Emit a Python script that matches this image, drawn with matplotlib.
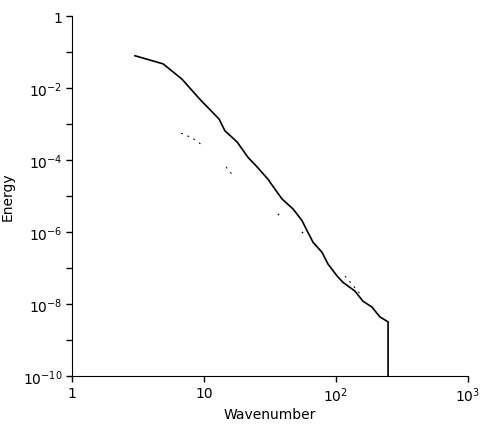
# Energy spectrum vs wavenumber

import numpy as np
import matplotlib.pyplot as plt
from matplotlib.ticker import FixedLocator, NullLocator

# Data
k_main = [3.0, 4.9, 6.8, 9.3, 13.0, 14.4, 17.8, 21.5, 25.2, 30.5, 34.5, 39.0,
          47.2, 55.2, 60.3, 67.0, 78.3, 86.9, 102, 113, 139, 160, 187, 215, 248]
E_main = [7.9e-2, 4.7e-2, 1.78e-2, 4.9e-3, 1.38e-3, 6.5e-4, 3.2e-4, 1.2e-4,
          6.5e-5, 2.95e-5, 1.55e-5, 8.3e-6, 4.4e-6, 2.1e-6, 1.1e-6, 5.2e-7,
          2.75e-7, 1.3e-7, 6.0e-8, 4.0e-8, 2.3e-8, 1.2e-8, 8.3e-9, 4.4e-9,
          3.2e-9]
k_cut = 248
E_floor = 1e-10

# second (dotted) spectrum, only the visible pieces; NaN marks a gap
k_dot = [6.7, 7.8, 8.85, 9.8, np.nan, 14.7, 15.5, 16.9, np.nan, 117, 146, 157]
E_dot = [5.6e-4, 4.4e-4, 3.4e-4, 2.45e-4, np.nan, 6.5e-5, 4.9e-5, 3.6e-5,
         np.nan, 6.0e-8, 2.3e-8, 1.66e-8]
k_spec = [36.4, 55.2]
E_spec = [3.2e-6, 1.0e-6]

yticks = [1, 1e-1, 1e-2, 1e-3, 1e-4, 1e-5, 1e-6, 1e-7, 1e-8, 1e-9, 1e-10]
ylabels = {1: '1', 1e-2: r'$10^{-2}$', 1e-4: r'$10^{-4}$', 1e-6: r'$10^{-6}$',
           1e-8: r'$10^{-8}$', 1e-10: r'$10^{-10}$'}
xticks = [1, 10, 100, 1000]
xlabels = ['1', '10', r'$10^2$', r'$10^3$']

plt.rcParams['mathtext.default'] = 'regular'
fig = plt.figure(figsize=(4.8, 4.27), dpi=100)
ax = fig.add_axes([0.15, 0.117, 0.825, 0.843])

ax.plot(k_main + [k_cut], E_main + [E_floor], color='black', lw=1.2)
ax.plot(k_dot, E_dot, color='black', lw=0.7, linestyle=(0, (2, 5)))
ax.plot(k_spec, E_spec, 'o', color='black', ms=1.2, mew=0)

ax.set_xscale('log')
ax.set_yscale('log')
ax.set_xlim(1, 1000)
ax.set_ylim(1e-10, 1)

ax.yaxis.set_major_locator(FixedLocator(yticks))
ax.yaxis.set_minor_locator(NullLocator())
ax.set_yticklabels([ylabels.get(t, '') for t in yticks])
ax.xaxis.set_major_locator(FixedLocator(xticks))
ax.xaxis.set_minor_locator(NullLocator())
ax.set_xticklabels(xlabels)

ax.tick_params(direction='out', length=4, width=1, labelsize=10, pad=3)
ax.spines['top'].set_visible(False)
ax.spines['right'].set_visible(False)

ax.set_xlabel('Wavenumber', fontsize=10, labelpad=2)
ax.set_ylabel('Energy', fontsize=10, labelpad=6)

fig.savefig('out.png', dpi=100)
